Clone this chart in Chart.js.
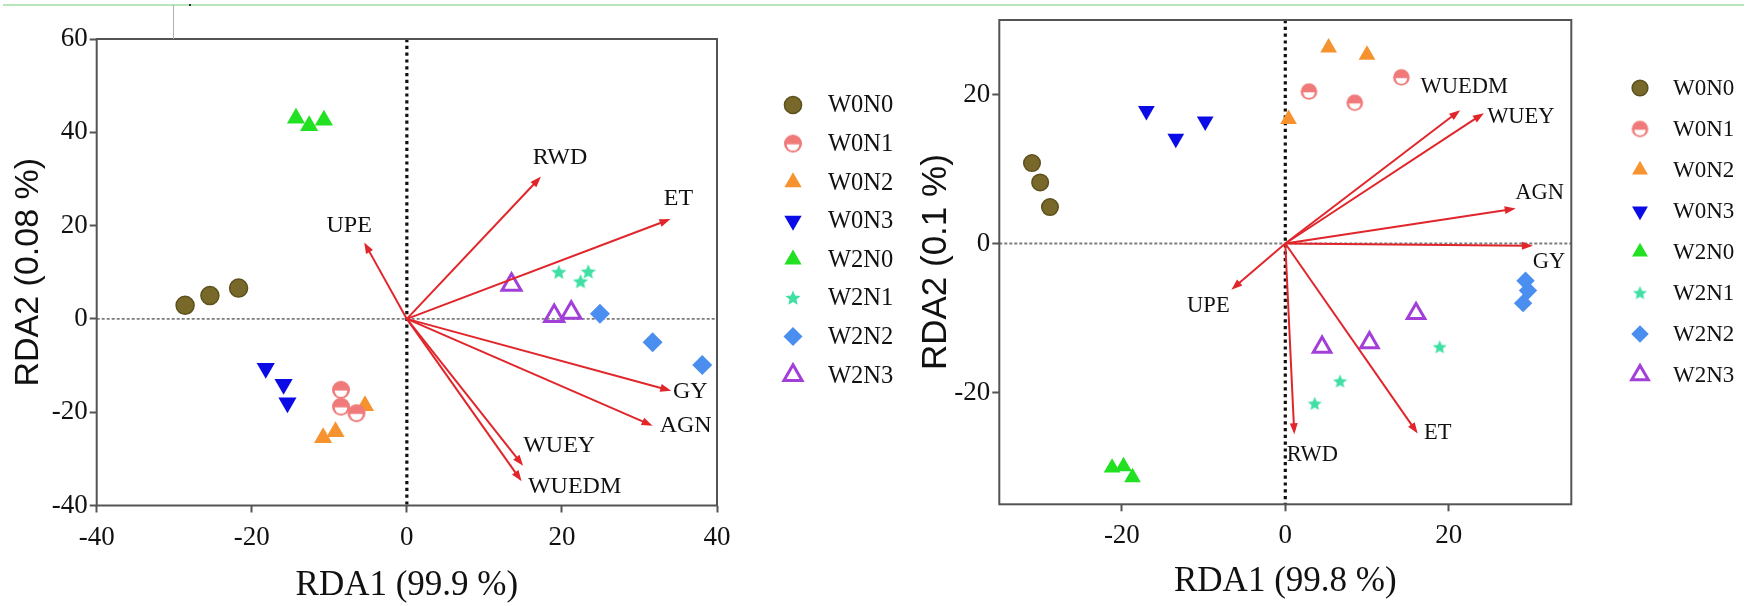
<!DOCTYPE html>
<html>
<head>
<meta charset="utf-8">
<script src="https://cdn.jsdelivr.net/npm/chart.js@4.4.1/dist/chart.umd.min.js"></script>
<style>
    body { margin: 0; background: #fff; width: 1753px; height: 606px; overflow: hidden; position: relative; }
    canvas { position: absolute; top: 0; }
    #chartA { left: 0; }
    #chartB { left: 900px; }
    .deco { position: absolute; z-index: 5; }
</style>
</head>
<body>
<canvas id="chartA" width="900" height="606"></canvas>
<canvas id="chartB" width="853" height="606"></canvas>
<div class="deco" style="left:3px;top:4px;width:1741px;height:2px;background:#b9e5bb"></div>
<div class="deco" style="left:173px;top:5px;width:1px;height:34px;background:#b0b0b0"></div>
<div class="deco" style="left:189px;top:4px;width:2px;height:2px;background:#333"></div>
<script>
const groups = ['W0N0', 'W0N1', 'W0N2', 'W0N3', 'W2N0', 'W2N1', 'W2N2', 'W2N3'];

// left panel: sample scores, one row per group
const siteA_rda1 = [
    [-28.6, -25.4, -21.7],
    [-8.5, -8.5, -6.5],
    [-10.8, -9.2, -5.4],
    [-18.2, -15.9, -15.4],
    [-14.3, -12.6, -10.7],
    [19.6, 22.4, 23.4],
    [24.9, 31.7, 38.1],
    [13.5, 19.0, 21.2]
];
const siteA_rda2 = [
    [2.9, 5.0, 6.6],
    [-15.2, -18.8, -20.2],
    [-25.5, -24.2, -18.6],
    [-10.6, -14.0, -18.0],
    [43.0, 41.4, 42.6],
    [10.0, 8.0, 10.1],
    [1.1, -5.0, -9.9],
    [7.3, 0.6, 1.3]
];
const envA = ['RWD', 'ET', 'UPE', 'GY', 'AGN', 'WUEY', 'WUEDM'];
const envA_rda1 = [17.3, 34.0, -5.5, 34.1, 31.7, 15.0, 14.8];
const envA_rda2 = [30.5, 21.4, 16.4, -15.4, -22.9, -31.5, -34.8];
const ticksA_x = [-40, -20, 0, 20, 40];
const ticksA_y = [-40, -20, 0, 20, 40, 60];

// right panel
const siteB_rda1 = [
    [-31.0, -30.0, -28.8],
    [2.9, 8.5, 14.2],
    [0.4, 5.3, 10.0],
    [-17.0, -13.4, -9.8],
    [-21.2, -19.8, -18.7],
    [3.6, 6.7, 18.9],
    [29.4, 29.7, 29.1],
    [4.5, 10.3, 16.0]
];
const siteB_rda2 = [
    [10.8, 8.2, 4.9],
    [20.4, 18.9, 22.3],
    [16.7, 26.3, 25.3],
    [17.8, 14.1, 16.4],
    [-30.1, -29.9, -31.4],
    [-21.5, -18.5, -13.9],
    [-5.0, -6.3, -8.0],
    [-13.9, -13.3, -9.4]
];
const envB = ['WUEDM', 'WUEY', 'AGN', 'GY', 'UPE', 'RWD', 'ET'];
const envB_rda1 = [21.4, 24.3, 28.2, 30.3, -6.6, 1.1, 16.2];
const envB_rda2 = [17.9, 17.5, 4.7, -0.3, -6.2, -25.6, -25.5];
const ticksB = [-20, 0, 20];

// label nudges (px) from arrow tips
const labelNudgeA = { RWD: [19, -19], ET: [8, -20], UPE: [-15, -17], GY: [19, 1], AGN: [33, 0], WUEY: [36, -20], WUEDM: [53, 5] };
const labelNudgeB = { WUEDM: [4, -23], WUEY: [37, 4], AGN: [24, -15], GY: [16, 16], UPE: [-23, 16], RWD: [18, 21], ET: [20, 0] };

const SERIF = 'Liberation Serif';
const SANS = 'Liberation Sans';
const ARROW = '#e1262b';

// custom marker images
function halfCircle(r, color) {
    const c = document.createElement('canvas');
    const s = Math.ceil(r * 2 + 2);
    c.width = c.height = s;
    const g = c.getContext('2d');
    const m = s / 2;
    g.fillStyle = color;
    g.beginPath(); g.arc(m, m, r, 0, Math.PI * 2); g.fill();
    g.fillStyle = '#fff';
    g.beginPath(); g.arc(m, m + r * 0.08, r * 0.7, 0, Math.PI); g.closePath(); g.fill();
    return c;
}

function starImg(r, color) {
    const c = document.createElement('canvas');
    const s = Math.ceil(r * 2 + 2);
    c.width = c.height = s;
    const g = c.getContext('2d');
    const m = s / 2;
    g.fillStyle = color;
    g.beginPath();
    for (let i = 0; i < 10; i++) {
        const rr = i % 2 === 0 ? r : r * 0.45;
        const a = -Math.PI / 2 + i * Math.PI / 5;
        g.lineTo(m + Math.cos(a) * rr, m + 0.4 + Math.sin(a) * rr);
    }
    g.closePath(); g.fill();
    return c;
}

function groupStyles(k) {
    return [
        { pointStyle: 'circle', bg: '#78692b', border: '#5c501c', bw: 1.5, r: 9 * k },
        { pointStyle: halfCircle(9 * k, '#f07a7a'), bg: '#f07a7a', border: '#f07a7a', bw: 0, r: 9 * k },
        { pointStyle: 'triangle', bg: '#f7932f', border: '#f7932f', bw: 0, r: 10.5 * k },
        { pointStyle: 'triangle', rot: 180, bg: '#0b0be6', border: '#0b0be6', bw: 0, r: 10.5 * k },
        { pointStyle: 'triangle', bg: '#22e022', border: '#22e022', bw: 0, r: 10.5 * k },
        { pointStyle: starImg(8 * k, '#40dfa4'), bg: '#40dfa4', border: '#40dfa4', bw: 0, r: 8 * k },
        { pointStyle: 'rectRot', bg: '#4a8ff0', border: '#4a8ff0', bw: 0, r: 10 * k },
        { pointStyle: 'triangle', bg: 'rgba(0,0,0,0)', border: '#a23fd8', bw: 3, r: 11 * k }
    ];
}

function makeDatasets(xs, ys, styles) {
    return groups.map((name, g) => ({
        label: name,
        data: xs[g].map((v, k) => ({ x: v, y: ys[g][k] })),
        pointStyle: styles[g].pointStyle,
        pointRotation: styles[g].rot || 0,
        pointRadius: styles[g].r,
        pointHoverRadius: styles[g].r,
        backgroundColor: styles[g].bg,
        borderColor: styles[g].border,
        borderWidth: styles[g].bw,
        showLine: false
    }));
}

const biplot = {
    id: 'biplot',
    beforeDatasetsDraw(chart, args, o) {
        const { ctx, chartArea: a, scales: { x, y } } = chart;
        const x0 = x.getPixelForValue(0), y0 = y.getPixelForValue(0);
        ctx.save();
        ctx.strokeStyle = '#7c7c7c';
        ctx.lineWidth = 1.8;
        ctx.setLineDash([3, 2]);
        ctx.beginPath(); ctx.moveTo(a.left, y0); ctx.lineTo(a.right, y0); ctx.stroke();
        ctx.strokeStyle = '#111';
        ctx.lineWidth = 3.2;
        ctx.setLineDash([3.2, 3.6]);
        ctx.beginPath(); ctx.moveTo(x0, a.top); ctx.lineTo(x0, a.bottom); ctx.stroke();
        ctx.restore();
    },
    afterDatasetsDraw(chart, args, o) {
        const { ctx, scales: { x, y } } = chart;
        const x0 = x.getPixelForValue(0), y0 = y.getPixelForValue(0);
        ctx.save();
        ctx.strokeStyle = ARROW;
        ctx.fillStyle = ARROW;
        ctx.lineWidth = 2;
        o.names.forEach((n, i) => {
            const ex = x.getPixelForValue(o.ax[i]), ey = y.getPixelForValue(o.ay[i]);
            const t = Math.atan2(ey - y0, ex - x0);
            const c = Math.cos(t), s = Math.sin(t);
            ctx.beginPath(); ctx.moveTo(x0, y0); ctx.lineTo(ex - c * 6, ey - s * 6); ctx.stroke();
            ctx.beginPath();
            ctx.moveTo(ex, ey);
            ctx.lineTo(ex - c * 11 + s * 4, ey - s * 11 - c * 4);
            ctx.lineTo(ex - c * 11 - s * 4, ey - s * 11 + c * 4);
            ctx.closePath(); ctx.fill();
        });
        ctx.fillStyle = '#111';
        ctx.font = o.labelSize + 'px ' + SERIF;
        ctx.textAlign = 'center';
        ctx.textBaseline = 'middle';
        o.names.forEach((n, i) => {
            const ex = x.getPixelForValue(o.ax[i]), ey = y.getPixelForValue(o.ay[i]);
            const d = o.nudge[n];
            ctx.fillText(n, ex + d[0], ey + d[1]);
        });
        ctx.restore();
    },
    afterDraw(chart, args, o) {
        const { ctx, chartArea: a } = chart;
        ctx.save();
        ctx.strokeStyle = '#545454';
        ctx.lineWidth = 2;
        ctx.strokeRect(a.left, a.top, a.right - a.left, a.bottom - a.top);
        // legend
        ctx.font = o.legendSize + 'px ' + SERIF;
        ctx.textAlign = 'left';
        ctx.textBaseline = 'middle';
        chart.data.datasets.forEach((ds, i) => {
            const ly = o.legendY + i * o.legendGap;
            ctx.fillStyle = ds.backgroundColor;
            ctx.strokeStyle = ds.borderColor;
            ctx.lineWidth = ds.borderWidth;
            Chart.helpers.drawPoint(ctx, {
                pointStyle: ds.pointStyle, rotation: ds.pointRotation,
                radius: ds.pointRadius * 0.95, borderWidth: ds.borderWidth
            }, o.legendX, ly);
            ctx.fillStyle = '#111';
            ctx.fillText(ds.label, o.legendTextX, ly + 1);
        });
        ctx.restore();
    }
};

function axisOpts(min, max, ticks, fitSize, title, titleFont, titlePad, tickPad) {
    return {
        type: 'linear',
        min: min,
        max: max,
        afterBuildTicks: s => { s.ticks = ticks.map(v => ({ value: v })); },
        afterFit: s => { if (s.isHorizontal()) s.height = fitSize; else s.width = fitSize; },
        border: { display: false },
        grid: { drawOnChartArea: false, drawTicks: true, tickLength: 7, tickWidth: 2, tickColor: '#545454' },
        ticks: { color: '#111', padding: tickPad, font: { family: SERIF, size: 27 }, callback: v => String(v) },
        title: { display: true, text: title, color: '#111', font: titleFont, padding: titlePad }
    };
}

function buildChart(id, cfg) {
    return new Chart(document.getElementById(id), {
        type: 'scatter',
        data: { datasets: makeDatasets(cfg.sx, cfg.sy, cfg.styles) },
        plugins: [biplot],
        options: {
            responsive: false,
            animation: false,
            devicePixelRatio: 1,
            layout: { padding: cfg.padding },
            scales: { x: cfg.x, y: cfg.y },
            plugins: {
                legend: { display: false },
                tooltip: { enabled: false },
                biplot: cfg.biplot
            }
        }
    });
}

buildChart('chartA', {
    sx: siteA_rda1, sy: siteA_rda2, styles: groupStyles(1),
    padding: { left: 0, top: 39, right: 183, bottom: 0 },
    x: axisOpts(-40, 40, ticksA_x, 100.5, 'RDA1 (99.9 %)',
        { family: SERIF, size: 35, lineHeight: 1 }, { bottom: 2.5, top: 0 }, 9),
    y: axisOpts(-40, 60, ticksA_y, 96.7, 'RDA2 (0.08 %)',
        { family: SANS, size: 34, lineHeight: 1 }, { top: 12, bottom: 0 }, 2),
    biplot: {
        names: envA, ax: envA_rda1, ay: envA_rda2, nudge: labelNudgeA, labelSize: 24,
        legendX: 793, legendTextX: 828, legendY: 105, legendGap: 38.6, legendSize: 24.5
    }
});

buildChart('chartB', {
    sx: siteB_rda1, sy: siteB_rda2, styles: groupStyles(0.92),
    padding: { left: 0, top: 20, right: 181.7, bottom: 0 },
    x: axisOpts(-35, 35, ticksB, 101.7, 'RDA1 (99.8 %)',
        { family: SERIF, size: 35, lineHeight: 1 }, { bottom: 6.5, top: 0 }, 8),
    y: axisOpts(-35, 30, ticksB, 99.3, 'RDA2 (0.1 %)',
        { family: SANS, size: 35, lineHeight: 1 }, { top: 18.5, bottom: 0 }, 2),
    biplot: {
        names: envB, ax: envB_rda1, ay: envB_rda2, nudge: labelNudgeB, labelSize: 22.5,
        legendX: 740, legendTextX: 773, legendY: 88, legendGap: 41, legendSize: 23
    }
});
</script>
</body>
</html>
